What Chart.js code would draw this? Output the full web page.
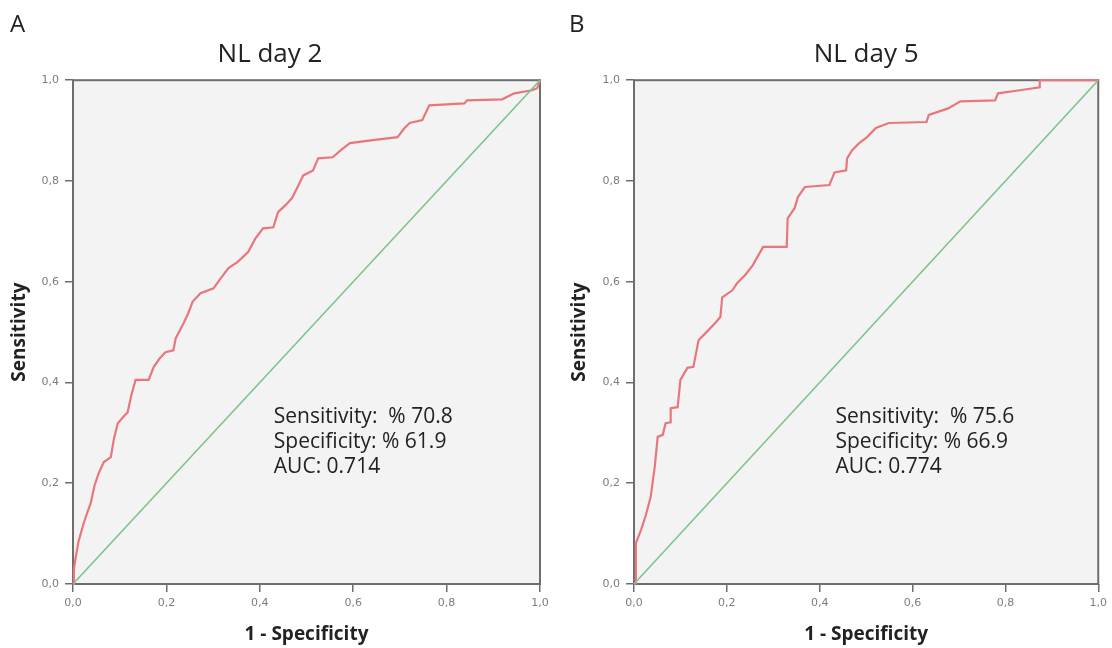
<!DOCTYPE html>
<html>
<head>
<meta charset="utf-8">
<title>ROC – NL day 2 / NL day 5</title>
<script src="https://cdn.jsdelivr.net/npm/chart.js@4.4.1/dist/chart.umd.min.js"></script>
<style>
  html, body { margin: 0; padding: 0; background: #fff; overflow: hidden; }
  #wrap { position: relative; width: 1112px; height: 648px; }
  canvas { position: absolute; top: 0; }
  #rocA { left: 0; }
  #rocB { left: 556px; }
</style>
</head>
<body>
<div id="wrap">
  <canvas id="rocA" width="556" height="648"></canvas>
  <canvas id="rocB" width="556" height="648"></canvas>
</div>
<script>
// ROC curve for NL day 2 (1 - specificity, sensitivity)
const day2Fpr = [0, 0.002, 0.006, 0.012, 0.023, 0.030, 0.038, 0.046, 0.055, 0.066, 0.081, 0.088,
  0.096, 0.108, 0.117, 0.125, 0.134, 0.162, 0.173, 0.185, 0.198, 0.215, 0.220, 0.237, 0.247,
  0.256, 0.273, 0.301, 0.315, 0.333, 0.352, 0.375, 0.390, 0.407, 0.429, 0.439, 0.455, 0.469,
  0.482, 0.493, 0.514, 0.525, 0.556, 0.575, 0.593, 0.642, 0.695, 0.710, 0.721, 0.748, 0.763,
  0.838, 0.844, 0.919, 0.945, 0.983, 0.994, 1];
const day2Tpr = [0, 0.030, 0.054, 0.085, 0.121, 0.140, 0.161, 0.195, 0.220, 0.242, 0.252, 0.290,
  0.319, 0.332, 0.341, 0.375, 0.405, 0.405, 0.431, 0.447, 0.460, 0.464, 0.488, 0.518, 0.538,
  0.560, 0.577, 0.587, 0.605, 0.627, 0.639, 0.659, 0.685, 0.706, 0.708, 0.738, 0.752, 0.766,
  0.790, 0.811, 0.821, 0.845, 0.847, 0.862, 0.875, 0.881, 0.887, 0.905, 0.915, 0.921, 0.950,
  0.954, 0.960, 0.962, 0.974, 0.980, 0.984, 1];

// ROC curve for NL day 5
const day5Fpr = [0, 0.004, 0.004, 0.015, 0.025, 0.036, 0.045, 0.051, 0.062, 0.068, 0.079, 0.079,
  0.094, 0.100, 0.115, 0.128, 0.139, 0.154, 0.175, 0.186, 0.190, 0.212, 0.222, 0.239, 0.256,
  0.278, 0.329, 0.331, 0.346, 0.353, 0.368, 0.421, 0.432, 0.457, 0.459, 0.470, 0.485, 0.502,
  0.521, 0.549, 0.630, 0.635, 0.677, 0.703, 0.778, 0.784, 0.831, 0.874, 0.874, 1];
const day5Tpr = [0, 0.002, 0.081, 0.107, 0.135, 0.173, 0.235, 0.292, 0.296, 0.319, 0.321, 0.349,
  0.351, 0.405, 0.429, 0.431, 0.484, 0.498, 0.518, 0.530, 0.569, 0.583, 0.597, 0.613, 0.633,
  0.669, 0.669, 0.726, 0.746, 0.768, 0.788, 0.792, 0.817, 0.821, 0.845, 0.861, 0.875, 0.887,
  0.905, 0.915, 0.917, 0.931, 0.944, 0.958, 0.960, 0.974, 0.980, 0.986, 1.0, 1];

// chance line
const refLine = [0, 1];

const tickLabels = ['0,0', '0,2', '0,4', '0,6', '0,8', '1,0'];
const day2Stats = ['Sensitivity:  % 70.8', 'Specificity: % 61.9', 'AUC: 0.714'];
const day5Stats = ['Sensitivity:  % 75.6', 'Specificity: % 66.9', 'AUC: 0.774'];

const toPoints = (xs, ys) => xs.map((x, i) => ({ x: x, y: ys[i] }));

// grey plot background, frame, panel letter and the stats block
const rocDecor = {
  id: 'rocDecor',
  beforeDraw(chart) {
    const a = chart.chartArea;
    const ctx = chart.ctx;
    ctx.save();
    ctx.fillStyle = '#f3f3f3';
    ctx.fillRect(a.left, a.top, a.width, a.height);
    ctx.restore();
  },
  beforeDatasetsDraw(chart) {
    const a = chart.chartArea;
    const ctx = chart.ctx;
    ctx.save();
    ctx.strokeStyle = '#6e6e6e';
    ctx.lineWidth = 2;
    ctx.strokeRect(a.left, a.top, a.width, a.height);
    ctx.restore();
  },
  afterDraw(chart, args, opts) {
    const ctx = chart.ctx;
    const xs = chart.scales.x;
    const ys = chart.scales.y;
    ctx.save();
    ctx.textBaseline = 'alphabetic';
    ctx.textAlign = 'left';
    ctx.fillStyle = '#222';
    ctx.font = '24px "Open Sans"';
    ctx.fillText(opts.letter, opts.letterX, 32);
    ctx.fillStyle = '#222';
    ctx.font = '500 21px "Open Sans"';
    const x0 = xs.getPixelForValue(opts.at[0]);
    const y0 = ys.getPixelForValue(opts.at[1]);
    opts.lines.forEach((t, i) => ctx.fillText(t, x0, y0 + i * 25));
    ctx.restore();
  }
};

function axis(titleText, isY, titlePad) {
  return {
    type: 'linear',
    min: 0,
    max: 1,
    ticks: {
      stepSize: 0.2,
      color: '#7c7c7c',
      font: { family: 'DejaVu Sans', size: 11 },
      padding: isY ? 6 : 5,
      callback: (v, i) => tickLabels[i]
    },
    grid: { drawOnChartArea: false, tickLength: 8, color: '#6e6e6e', lineWidth: 1.5 },
    border: { display: false },
    title: {
      display: true,
      text: titleText,
      color: '#222',
      font: { family: 'Open Sans', size: 19, weight: 'bold' },
      padding: titlePad
    },
    afterFit(s) {
      if (isY) s.width = 73; else s.height = 64;
    }
  };
}

function rocChart(id, title, fpr, tpr, panel) {
  return new Chart(document.getElementById(id), {
    type: 'scatter',
    data: {
      datasets: [
        {
          data: toPoints(refLine, refLine),
          showLine: true,
          borderColor: '#7cc48d',
          borderWidth: 1.6,
          pointRadius: 0,
          clip: 3
        },
        {
          data: toPoints(fpr, tpr),
          showLine: true,
          borderColor: '#e8777d',
          borderWidth: 2.2,
          pointRadius: 0,
          clip: 3
        }
      ]
    },
    options: {
      responsive: false,
      maintainAspectRatio: false,
      animation: false,
      layout: { padding: { left: panel.padLeft, right: panel.padRight, top: 0, bottom: 0 } },
      scales: {
        x: axis('1 - Specificity', false, { top: 0, bottom: 2 }),
        y: axis('Sensitivity', true, { top: panel.yTitlePad, bottom: 0 })
      },
      plugins: {
        legend: { display: false },
        tooltip: { enabled: false },
        title: {
          display: true,
          text: title,
          fullSize: panel.fullTitle,
          color: '#222',
          font: { family: 'Open Sans', size: 26, weight: 'normal' },
          padding: { top: 39, bottom: 10 }
        },
        rocDecor: panel
      }
    },
    plugins: [rocDecor]
  });
}

rocChart('rocA', 'NL day 2', day2Fpr, day2Tpr, {
  letter: 'A', letterX: 10, lines: day2Stats, at: [0.43, 0.32],
  padLeft: 0, padRight: 16, yTitlePad: 8, fullTitle: true
});
rocChart('rocB', 'NL day 5', day5Fpr, day5Tpr, {
  letter: 'B', letterX: 13, lines: day5Stats, at: [0.434, 0.32],
  padLeft: 5, padRight: 12, yTitlePad: 7, fullTitle: false
});
</script>
</body>
</html>
